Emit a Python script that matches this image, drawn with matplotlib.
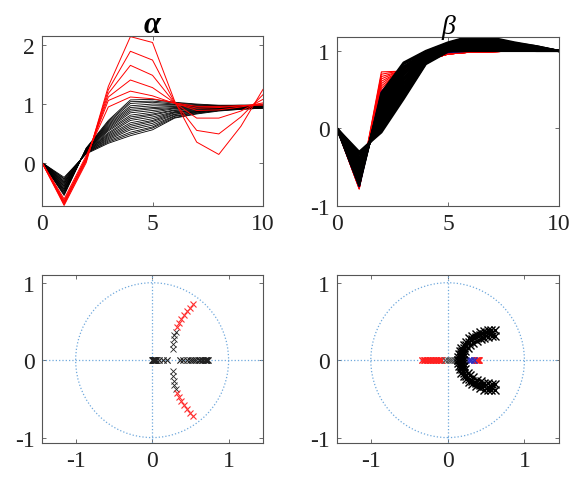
import numpy as np
import matplotlib
matplotlib.use('Agg')
import matplotlib.pyplot as plt
from matplotlib.patches import Circle

plt.rcParams['font.family'] = ['Liberation Serif', 'DejaVu Serif']

# --- sample instants of the step responses ---
t = [0, 1, 2, 3, 4, 5, 6, 7, 8, 9, 10]

# --- alpha: step responses (black = well damped, red = oscillatory) ---
alpha_black = [
    [0, -0.56, 0.25, 0.72, 1.07, 1.08, 1.03, 1.00, 0.98, 0.98, 0.98],
    [0, -0.54, 0.24, 0.70, 1.04, 1.05, 1.02, 0.99, 0.97, 0.98, 0.98],
    [0, -0.53, 0.24, 0.68, 1.01, 1.03, 1.00, 0.98, 0.97, 0.97, 0.97],
    [0, -0.51, 0.23, 0.66, 0.97, 1.00, 0.99, 0.97, 0.96, 0.97, 0.97],
    [0, -0.49, 0.23, 0.64, 0.94, 0.97, 0.97, 0.96, 0.96, 0.97, 0.97],
    [0, -0.48, 0.22, 0.62, 0.91, 0.94, 0.96, 0.96, 0.95, 0.96, 0.97],
    [0, -0.46, 0.22, 0.60, 0.88, 0.92, 0.94, 0.95, 0.95, 0.96, 0.96],
    [0, -0.45, 0.21, 0.58, 0.85, 0.89, 0.93, 0.94, 0.94, 0.95, 0.96],
    [0, -0.43, 0.21, 0.56, 0.81, 0.86, 0.92, 0.93, 0.94, 0.95, 0.96],
    [0, -0.41, 0.20, 0.54, 0.78, 0.83, 0.90, 0.92, 0.93, 0.95, 0.96],
    [0, -0.40, 0.20, 0.51, 0.75, 0.81, 0.89, 0.91, 0.93, 0.94, 0.95],
    [0, -0.38, 0.19, 0.49, 0.72, 0.78, 0.87, 0.90, 0.92, 0.94, 0.95],
    [0, -0.36, 0.19, 0.47, 0.68, 0.75, 0.86, 0.89, 0.92, 0.94, 0.95],
    [0, -0.35, 0.18, 0.45, 0.65, 0.72, 0.85, 0.88, 0.91, 0.93, 0.95],
    [0, -0.33, 0.18, 0.43, 0.62, 0.70, 0.83, 0.87, 0.91, 0.93, 0.94],
    [0, -0.32, 0.17, 0.41, 0.59, 0.67, 0.82, 0.87, 0.90, 0.92, 0.94],
    [0, -0.30, 0.17, 0.39, 0.56, 0.64, 0.80, 0.86, 0.90, 0.92, 0.94],
    [0, -0.28, 0.16, 0.37, 0.52, 0.61, 0.79, 0.85, 0.89, 0.92, 0.93],
    [0, -0.27, 0.16, 0.35, 0.49, 0.59, 0.77, 0.84, 0.89, 0.91, 0.93],
    [0, -0.25, 0.15, 0.33, 0.46, 0.56, 0.76, 0.83, 0.88, 0.91, 0.93],
]
alpha_red = [
    [0, -0.73, 0.00, 1.30, 2.15, 2.05, 1.05, 0.35, 0.14, 0.62, 1.25],
    [0, -0.71, 0.03, 1.24, 1.90, 1.75, 1.03, 0.55, 0.49, 0.78, 1.16],
    [0, -0.69, 0.05, 1.18, 1.66, 1.49, 1.02, 0.76, 0.76, 0.88, 1.08],
    [0, -0.67, 0.07, 1.12, 1.41, 1.28, 1.02, 0.89, 0.90, 0.95, 1.02],
    [0, -0.65, 0.09, 1.06, 1.22, 1.14, 1.01, 0.93, 0.94, 0.97, 1.00],
    [0, -0.62, 0.12, 0.95, 1.12, 1.09, 1.02, 0.96, 0.96, 0.97, 0.98],
]

# --- beta: step responses ---
beta_black = [
    [0, -0.74, 0.46, 0.85, 1.00, 1.11, 1.19, 1.17, 1.11, 1.06, 1.00],
    [0, -0.72, 0.43, 0.83, 0.99, 1.10, 1.18, 1.16, 1.10, 1.06, 1.00],
    [0, -0.70, 0.41, 0.80, 0.98, 1.09, 1.17, 1.15, 1.10, 1.05, 1.00],
    [0, -0.67, 0.38, 0.78, 0.97, 1.09, 1.16, 1.14, 1.09, 1.05, 1.00],
    [0, -0.65, 0.36, 0.76, 0.97, 1.09, 1.15, 1.14, 1.09, 1.05, 1.00],
    [0, -0.63, 0.33, 0.73, 0.96, 1.08, 1.14, 1.13, 1.08, 1.05, 1.00],
    [0, -0.61, 0.31, 0.71, 0.95, 1.07, 1.13, 1.12, 1.08, 1.04, 1.00],
    [0, -0.59, 0.28, 0.69, 0.94, 1.07, 1.12, 1.11, 1.07, 1.04, 1.00],
    [0, -0.56, 0.26, 0.66, 0.93, 1.06, 1.11, 1.10, 1.07, 1.04, 1.00],
    [0, -0.54, 0.23, 0.64, 0.92, 1.06, 1.10, 1.09, 1.06, 1.03, 1.00],
    [0, -0.52, 0.21, 0.62, 0.92, 1.05, 1.10, 1.09, 1.06, 1.03, 1.00],
    [0, -0.50, 0.18, 0.59, 0.91, 1.04, 1.09, 1.08, 1.05, 1.03, 1.00],
    [0, -0.48, 0.15, 0.57, 0.90, 1.04, 1.08, 1.07, 1.04, 1.02, 1.00],
    [0, -0.45, 0.13, 0.54, 0.89, 1.03, 1.07, 1.06, 1.04, 1.02, 1.00],
    [0, -0.43, 0.10, 0.52, 0.88, 1.03, 1.06, 1.05, 1.03, 1.02, 1.00],
    [0, -0.41, 0.08, 0.50, 0.87, 1.02, 1.05, 1.04, 1.03, 1.02, 1.00],
    [0, -0.39, 0.05, 0.47, 0.86, 1.01, 1.04, 1.03, 1.02, 1.01, 1.00],
    [0, -0.37, 0.03, 0.45, 0.86, 1.01, 1.03, 1.03, 1.02, 1.01, 1.00],
    [0, -0.34, 0.00, 0.43, 0.85, 1.00, 1.02, 1.02, 1.01, 1.01, 1.00],
    [0, -0.32, -0.02, 0.40, 0.84, 1.00, 1.01, 1.01, 1.01, 1.00, 1.00],
    [0, -0.30, -0.05, 0.38, 0.83, 0.99, 1.00, 1.00, 1.00, 1.00, 1.00],
]
beta_red = [
    [0, -0.78, 0.73, 0.74, 0.88, 0.96, 0.985, 0.99, 1.00, 1.00, 1.00],
    [0, -0.78, 0.70, 0.75, 0.88, 0.96, 0.985, 0.99, 1.00, 1.00, 1.00],
    [0, -0.77, 0.67, 0.75, 0.88, 0.96, 0.985, 0.99, 1.00, 1.00, 1.00],
    [0, -0.77, 0.64, 0.76, 0.88, 0.96, 0.985, 0.99, 1.00, 1.00, 1.00],
    [0, -0.76, 0.61, 0.76, 0.88, 0.96, 0.985, 0.99, 1.00, 1.00, 1.00],
    [0, -0.76, 0.58, 0.77, 0.88, 0.96, 0.985, 0.99, 1.00, 1.00, 1.00],
    [0, -0.75, 0.55, 0.77, 0.88, 0.96, 0.985, 0.99, 1.00, 1.00, 1.00],
    [0, -0.75, 0.52, 0.78, 0.88, 0.96, 0.985, 0.99, 1.00, 1.00, 1.00],
    [0, -0.74, 0.49, 0.78, 0.88, 0.96, 0.985, 0.99, 1.00, 1.00, 1.00],
    [0, -0.74, 0.46, 0.79, 0.88, 0.96, 0.985, 0.99, 1.00, 1.00, 1.00],
]
beta_blue = [0, -0.75, 0.47, 0.80, 0.93, 0.98, 1.00, 1.00, 1.00, 1.00, 1.00]

# --- alpha: poles (upper half plane, mirrored below) ---
alpha_real_black = [0.0, 0.005, 0.01, 0.015, 0.02, 0.025, 0.03, 0.035, 0.04, 0.045, 0.05,
                    0.09, 0.14, 0.19,
                    0.36, 0.40, 0.45, 0.49, 0.52, 0.55, 0.58, 0.61, 0.63, 0.65,
                    0.67, 0.69, 0.70, 0.71, 0.72, 0.73]
alpha_cplx_black_re = [0.27, 0.27, 0.28, 0.29, 0.31]
alpha_cplx_black_im = [0.14, 0.21, 0.27, 0.32, 0.37]
alpha_cplx_red_re = [0.32, 0.35, 0.38, 0.42, 0.46, 0.50, 0.54]
alpha_cplx_red_im = [0.43, 0.48, 0.53, 0.58, 0.63, 0.68, 0.72]

# --- beta: poles ---
beta_cplx_re = [0.14, 0.14, 0.15, 0.16, 0.18, 0.21, 0.24, 0.28, 0.32, 0.37, 0.42, 0.47, 0.52, 0.57, 0.62,
                0.17, 0.17, 0.18, 0.19, 0.21, 0.24, 0.28, 0.32, 0.37, 0.42, 0.47, 0.52, 0.57,
                0.20, 0.20, 0.21, 0.23, 0.26, 0.29, 0.33, 0.38, 0.43, 0.48, 0.53, 0.58, 0.62]
beta_cplx_im = [0.00, 0.04, 0.08, 0.12, 0.16, 0.20, 0.24, 0.28, 0.31, 0.34, 0.36, 0.38, 0.39, 0.39, 0.39,
                0.00, 0.04, 0.08, 0.12, 0.16, 0.20, 0.24, 0.27, 0.30, 0.32, 0.34, 0.35, 0.35,
                0.00, 0.04, 0.08, 0.12, 0.16, 0.19, 0.22, 0.25, 0.27, 0.29, 0.30, 0.31, 0.31]
beta_real_red = [-0.33, -0.31, -0.29, -0.27, -0.25, -0.23, -0.21, -0.19, -0.17, -0.15,
                 -0.13, -0.11, -0.09, -0.08,
                 0.37, 0.38, 0.39, 0.40, 0.41]
beta_real_black = [-0.03, 0.0, 0.03, 0.06, 0.09, 0.12, 0.15]
beta_real_blue = [0.28, 0.31, 0.34]

grid_col = '#6fa8dc'
spine_col = '#555555'


def style_axes(ax):
    for s in ax.spines.values():
        s.set_color(spine_col)
        s.set_linewidth(0.8)
    ax.tick_params(direction='in', top=True, right=True, length=3,
                   width=0.6, color=spine_col, labelsize=17, pad=5,
                   labelcolor='#222222')


def pz_axes(ax):
    ax.add_patch(Circle((0, 0), 1, fill=False, ls=':', lw=0.9, color=grid_col))
    ax.axhline(0, ls=':', lw=0.9, color=grid_col)
    ax.axvline(0, ls=':', lw=0.9, color=grid_col)
    ax.set_xlim(-1.44, 1.45)
    ax.set_ylim(-1.07, 1.1)
    ax.set_xticks([-1, 0, 1])
    ax.set_yticks([-1, 0, 1])
    ax.set_xticklabels(['-1', '0', '1'])
    ax.set_yticklabels(['-1', '0', '1'])
    style_axes(ax)


def mark(ax, re, im, color, ms=5, lw=0.8):
    re = np.asarray(re)
    im = np.asarray(im)
    ax.plot(re, im, 'x', color=color, ms=ms, mew=lw)
    ax.plot(re, -im, 'x', color=color, ms=ms, mew=lw)


fig = plt.figure(figsize=(5.86, 4.81), dpi=100)
ax1 = fig.add_axes([0.0717, 0.5696, 0.3771, 0.3534])
ax2 = fig.add_axes([0.5751, 0.5696, 0.3788, 0.3514])
ax3 = fig.add_axes([0.0717, 0.0769, 0.3771, 0.3493])
ax4 = fig.add_axes([0.5751, 0.0769, 0.3788, 0.3493])

# alpha step responses
for y in alpha_black:
    ax1.plot(t, y, color='k', lw=0.6)
for y in alpha_red:
    ax1.plot(t, y, color='r', lw=0.7)
ax1.set_xlim(0, 10)
ax1.set_ylim(-0.74, 2.16)
ax1.set_xticks([0, 5, 10])
ax1.set_yticks([0, 1, 2])
style_axes(ax1)
ax1.set_title('α', fontsize=22, fontweight='bold', fontstyle='italic', pad=3)

# beta step responses
for y in beta_red:
    ax2.plot(t, y, color='r', lw=0.8)
ax2.plot(t, beta_blue, color='b', lw=1.0)
for y in beta_black:
    ax2.plot(t, y, color='k', lw=1.6)
ax2.set_xlim(0, 10)
ax2.set_ylim(-1, 1.18)
ax2.set_xticks([0, 5, 10])
ax2.set_yticks([-1, 0, 1])
ax2.set_yticklabels(['-1', '0', '1'])
style_axes(ax2)
ax2.set_title('β', fontsize=20, fontstyle='italic', pad=3)

# alpha poles
pz_axes(ax3)
mark(ax3, alpha_real_black, np.zeros(len(alpha_real_black)), '#222222', lw=0.6)
mark(ax3, alpha_cplx_black_re, alpha_cplx_black_im, '#222222', lw=0.6)
mark(ax3, alpha_cplx_red_re, alpha_cplx_red_im, '#ff3030', lw=0.8)

# beta poles
pz_axes(ax4)
mark(ax4, beta_real_red, np.zeros(len(beta_real_red)), '#ff2020', lw=0.8)
mark(ax4, beta_real_black, np.zeros(len(beta_real_black)), '#555555', lw=0.6)
mark(ax4, beta_real_blue, np.zeros(len(beta_real_blue)), '#3030c0', lw=0.8)
mark(ax4, beta_cplx_re, beta_cplx_im, 'k', ms=6, lw=1.0)

fig.savefig('out.png', dpi=100)
